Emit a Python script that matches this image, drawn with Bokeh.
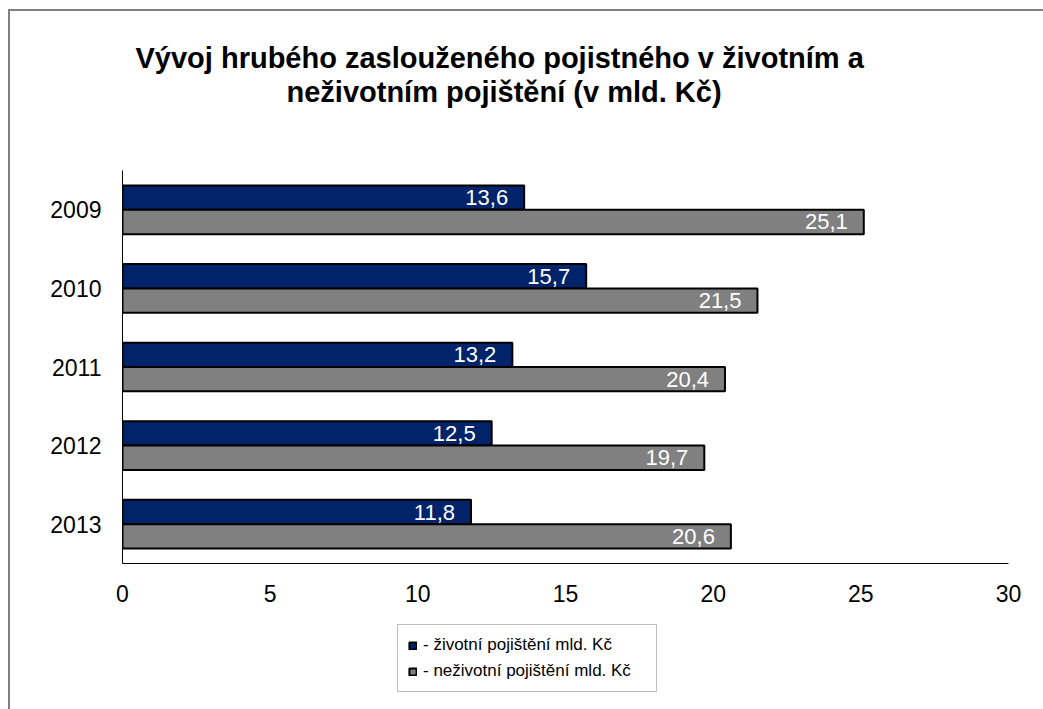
from bokeh.plotting import figure
from bokeh.layouts import column
from bokeh.models import (ColumnDataSource, FactorRange, Range1d, FixedTicker, Legend,
                          LegendItem, Title)
from bokeh.transform import dodge
from bokeh.core.properties import value
from bokeh.embed import file_html
from bokeh.resources import INLINE

years = ["2009", "2010", "2011", "2012", "2013"]
zivotni = [13.6, 15.7, 13.2, 12.5, 11.8]
nezivotni = [25.1, 21.5, 20.4, 19.7, 20.6]
x_ticks = [0, 5, 10, 15, 20, 25, 30]
title_lines = ["Vývoj hrubého zaslouženého pojistného v životním a",
               "neživotním pojištění (v mld. Kč)"]
legend_labels = ["- životní pojištění mld. Kč", "- neživotní pojištění mld. Kč"]

FONT = "Liberation Sans"
BLUE = "#002369"
GRAY = "#808080"

def fmt(v):
    return f"{v:.1f}".replace(".", ",")

src = ColumnDataSource(dict(
    year=years,
    ziv=zivotni,
    nez=nezivotni,
    ziv_lbl=[fmt(v) for v in zivotni],
    nez_lbl=[fmt(v) for v in nezivotni],
))

yr = FactorRange(*reversed(years))
xr = Range1d(0, 30)

p = figure(width=1033, height=605, y_range=yr, x_range=xr,
           output_backend="svg", toolbar_location=None,
           min_border_left=112, min_border_right=35,
           min_border_top=159, min_border_bottom=53)
p.outline_line_color = None
p.xgrid.grid_line_color = None
p.ygrid.grid_line_color = None
p.background_fill_color = "white"
p.border_fill_color = "white"

bar_kw = dict(left=0, height=0.31, source=src, line_color="black", line_width=2)
r1 = p.hbar(y=dodge("year", 0.155, range=yr), right="ziv", fill_color=BLUE, **bar_kw)
r2 = p.hbar(y=dodge("year", -0.155, range=yr), right="nez", fill_color=GRAY, **bar_kw)

txt_kw = dict(source=src, text_align="right", text_baseline="middle", x_offset=-16,
              text_color="white", text_font=value(FONT), text_font_size="22px")
p.text(x="ziv", y=dodge("year", 0.155, range=yr), text="ziv_lbl", **txt_kw)
p.text(x="nez", y=dodge("year", -0.155, range=yr), text="nez_lbl", **txt_kw)

for ax in (p.xaxis[0], p.yaxis[0]):
    ax.axis_line_color = "black"
    ax.axis_line_width = 1
    ax.major_tick_line_color = None
    ax.minor_tick_line_color = None
    ax.major_tick_out = 0
    ax.major_tick_in = 0
    ax.major_label_text_font = FONT
    ax.major_label_text_font_size = "23px"
    ax.major_label_text_color = "black"

p.xaxis.ticker = FixedTicker(ticks=x_ticks)
p.xaxis.major_label_standoff = 21
p.yaxis.major_label_standoff = 21

# title: spacer nearest the frame, then line 2, then line 1
spacer = Title(text=" ", text_font_size="1px", standoff=60)
t2 = Title(text=title_lines[1], align="left", offset=164, standoff=0,
           text_font=FONT, text_font_size="29px", text_font_style="bold", text_color="black")
t1 = Title(text=title_lines[0], align="left", offset=13, standoff=0,
           text_font=FONT, text_font_size="29px", text_font_style="bold", text_color="black")
p.add_layout(spacer, "above")
p.add_layout(t2, "above")
p.add_layout(t1, "above")

# legend strip below the chart
lf = figure(width=1033, height=93, y_range=yr, x_range=xr,
            output_backend="svg", toolbar_location=None,
            x_axis_location=None, y_axis_location=None, min_border=0)
lf.outline_line_color = None
lf.grid.visible = False
lf.background_fill_color = "white"
lf.border_fill_color = "white"
g1 = lf.hbar(y=dodge("year", 0.155, range=yr), right="ziv", fill_color=BLUE, visible=False, **bar_kw)
g2 = lf.hbar(y=dodge("year", -0.155, range=yr), right="nez", fill_color=GRAY, visible=False, **bar_kw)

legend = Legend(items=[LegendItem(label=legend_labels[0], renderers=[g1]),
                       LegendItem(label=legend_labels[1], renderers=[g2])],
                location=(275, 17), orientation="vertical",
                glyph_width=9, glyph_height=9, label_standoff=6, label_width=223,
                label_height=17, spacing=6, padding=10, margin=0,
                label_text_font=FONT, label_text_font_size="17px", label_text_color="black",
                border_line_color=GRAY, border_line_width=1,
                background_fill_color="white", background_fill_alpha=1,
                inactive_fill_alpha=0)
lf.add_layout(legend, "center")

lay = column(p, lf, spacing=0)
lay.styles = {"border-left": "2px solid #808080", "border-top": "2px solid #808080",
              "margin-left": "8px", "margin-top": "9px"}

open("out.html", "w").write(file_html(lay, INLINE))
